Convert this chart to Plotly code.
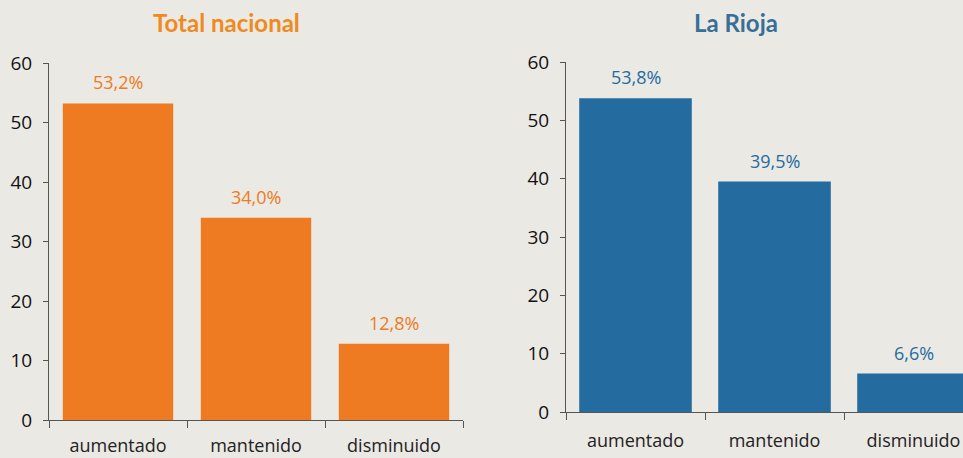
import plotly.graph_objects as go

categories = ["aumentado", "mantenido", "disminuido"]
nacional = [53.2, 34.0, 12.8]
rioja = [53.8, 39.5, 6.6]
titles = ["Total nacional", "La Rioja"]
y_ticks = [0, 10, 20, 30, 40, 50, 60]

ORANGE = "#EE7B22"
BLUE = "#246C9F"
BG = "#EBE9E4"
AXIS = "#555555"
FONT = "Open Sans"

fig = go.Figure()
fig.add_trace(go.Bar(x=categories, y=nacional, marker_color=ORANGE, marker_line_width=0,
                     cliponaxis=False, xaxis="x", yaxis="y", width=0.8))
fig.add_trace(go.Bar(x=categories, y=rioja, marker_color=BLUE, marker_line_width=0,
                     cliponaxis=False, xaxis="x2", yaxis="y2", width=0.81))

W, H = 963, 458
def dx(a, b):
    return [a / W, b / W]
def dy(top, bottom):
    return [(H - bottom) / H, (H - top) / H]

def fmt(v):
    return f"{v:.1f}".replace(".", ",") + "%"

annotations = [
    dict(text="<b>" + titles[0] + "</b>", x=226 / W, y=1 - 22 / H, xref="paper", yref="paper",
         showarrow=False, xanchor="center", yanchor="middle",
         font=dict(size=24, family="Lato", color="#EF8A1E")),
    dict(text="<b>" + titles[1] + "</b>", x=736 / W, y=1 - 22 / H, xref="paper", yref="paper",
         showarrow=False, xanchor="center", yanchor="middle",
         font=dict(size=24, family="Lato", color="#376F98")),
]
for vals, xr, yr, col in [(nacional, "x", "y", ORANGE), (rioja, "x2", "y2", BLUE)]:
    for c, v in zip(categories, vals):
        annotations.append(dict(text=fmt(v), x=c, y=v, xref=xr, yref=yr, showarrow=False,
                                xanchor="center", yanchor="middle", yshift=21,
                                font=dict(size=18, family=FONT, color=col)))

xcommon = dict(showline=True, linecolor=AXIS, linewidth=1, ticks="outside", tickson="boundaries",
               ticklen=7, tickcolor=AXIS, showgrid=False, zeroline=False, automargin=False,
               tickfont=dict(size=18, family=FONT, color="#222222"),
               fixedrange=True)
ycommon = dict(showline=True, linecolor=AXIS, linewidth=1, ticks="outside", ticklen=5,
               tickcolor=AXIS, showgrid=False, zeroline=False, range=[0, 60], tickvals=y_ticks,
               automargin=False,
               tickfont=dict(size=19, family=FONT, color="#111111"), ticklabelstandoff=7,
               fixedrange=True)

fig.update_layout(
    width=W, height=H, margin=dict(l=0, r=0, t=0, b=0, pad=0, autoexpand=False),
    paper_bgcolor=BG, plot_bgcolor=BG, showlegend=False,
    bargap=0.2,
    xaxis=dict(domain=dx(49, 463), anchor="y", range=[-0.5, 2.5], ticklabelstandoff=9, **xcommon),
    yaxis=dict(domain=dy(63, 420), anchor="x", **ycommon),
    xaxis2=dict(domain=dx(566, 963), anchor="y2", range=[-0.5, 2.356], ticklabelstandoff=12, **xcommon),
    yaxis2=dict(domain=dy(62, 412), anchor="x2", **ycommon),
    annotations=annotations,
)

fig.write_html("out.html", config={"displayModeBar": False},
               post_script="document.body.style.margin='0';document.body.style.overflow='hidden';"
                           "document.body.style.background='" + BG + "';")
